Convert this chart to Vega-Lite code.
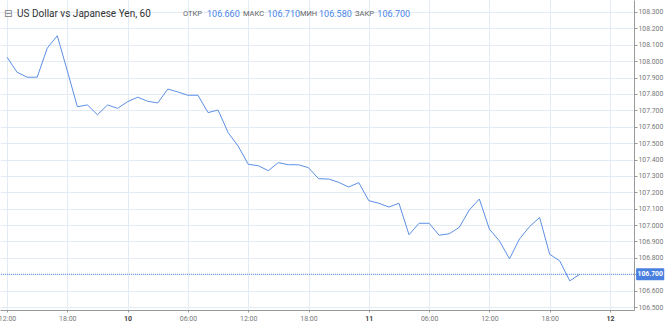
{
  "$schema": "https://vega.github.io/schema/vega-lite/v6.json",
  "width": 634,
  "height": 310,
  "autosize": {"type": "none"},
  "padding": {"left": 0, "top": 0, "right": 31, "bottom": 13},
  "background": "white",
  "config": {"view": {"stroke": null}, "font": "Roboto"},
  "resolve": {"axis": {"x": "independent", "y": "independent"}},
  "datasets": {
    "prices": [
      {"hour": 0, "price": 108.024}, {"hour": 1, "price": 107.932}, {"hour": 2, "price": 107.902},
      {"hour": 3, "price": 107.902}, {"hour": 4, "price": 108.079}, {"hour": 5, "price": 108.155},
      {"hour": 6, "price": 107.94}, {"hour": 7, "price": 107.722}, {"hour": 8, "price": 107.733},
      {"hour": 9, "price": 107.673}, {"hour": 10, "price": 107.733}, {"hour": 11, "price": 107.712},
      {"hour": 12, "price": 107.753}, {"hour": 13, "price": 107.78}, {"hour": 14, "price": 107.755},
      {"hour": 15, "price": 107.745}, {"hour": 16, "price": 107.83}, {"hour": 17, "price": 107.812},
      {"hour": 18, "price": 107.792}, {"hour": 19, "price": 107.792}, {"hour": 20, "price": 107.686},
      {"hour": 21, "price": 107.702}, {"hour": 22, "price": 107.564}, {"hour": 23, "price": 107.482},
      {"hour": 24, "price": 107.371}, {"hour": 25, "price": 107.362}, {"hour": 26, "price": 107.332},
      {"hour": 27, "price": 107.381}, {"hour": 28, "price": 107.368}, {"hour": 29, "price": 107.368},
      {"hour": 30, "price": 107.35}, {"hour": 31, "price": 107.283}, {"hour": 32, "price": 107.281},
      {"hour": 33, "price": 107.261}, {"hour": 34, "price": 107.232}, {"hour": 35, "price": 107.259},
      {"hour": 36, "price": 107.149}, {"hour": 37, "price": 107.133}, {"hour": 38, "price": 107.11},
      {"hour": 39, "price": 107.133}, {"hour": 40, "price": 106.941}, {"hour": 41, "price": 107.011},
      {"hour": 42, "price": 107.011}, {"hour": 43, "price": 106.938}, {"hour": 44, "price": 106.947},
      {"hour": 45, "price": 106.986}, {"hour": 46, "price": 107.092}, {"hour": 47, "price": 107.159},
      {"hour": 48, "price": 106.975}, {"hour": 49, "price": 106.903}, {"hour": 50, "price": 106.794},
      {"hour": 51, "price": 106.916}, {"hour": 52, "price": 106.991}, {"hour": 53, "price": 107.046},
      {"hour": 54, "price": 106.822}, {"hour": 55, "price": 106.781}, {"hour": 56, "price": 106.66},
      {"hour": 57, "price": 106.7}
    ],
    "one": [{}]
  },
  "layer": [
    {
      "data": {"name": "prices"},
      "mark": {"type": "line", "color": "#5d8fe6", "strokeWidth": 1, "clip": true},
      "encoding": {
        "x": {
          "field": "hour", "type": "quantitative",
          "scale": {"domain": [-0.7, 62.39], "nice": false, "zero": false},
          "axis": {
            "title": null,
            "values": [0, 6, 12, 18, 24, 30, 36, 42, 48, 54, 60],
            "labelExpr": "(12 + datum.value) % 24 == 0 ? toString(9 + floor((12 + datum.value) / 24)) : ((12 + datum.value) % 24 < 10 ? '0' : '') + toString((12 + datum.value) % 24) + ':00'",
            "grid": true, "gridColor": "#e3ecf5", "gridWidth": 1,
            "domainColor": "#999", "tickColor": "#999", "tickSize": 2,
            "labelFontSize": 7, "labelColor": {"condition": {"test": "(12 + datum.value) % 24 == 0", "value": "#444"}, "value": "#777"},
            "labelFontWeight": {"condition": {"test": "(12 + datum.value) % 24 == 0", "value": "bold"}, "value": "normal"},
            "labelPadding": 2, "labelFlush": false, "labelOverlap": false, "labelBound": false
          }
        },
        "y": {
          "field": "price", "type": "quantitative",
          "scale": {"domain": [106.482, 108.373], "nice": false, "zero": false},
          "axis": {
            "title": null, "orient": "right",
            "values": [106.5, 106.6, 106.7, 106.8, 106.9, 107.0, 107.1, 107.2, 107.3, 107.4, 107.5, 107.6, 107.7, 107.8, 107.9, 108.0, 108.1, 108.2, 108.3],
            "labelExpr": "abs(datum.value - 106.7) < 0.001 ? '' : format(datum.value, '.3f')",
            "grid": true, "gridColor": "#e3ecf5", "gridWidth": 1,
            "domainColor": "#999", "tickColor": "#999", "tickSize": 3,
            "labelFontSize": 6.8, "labelColor": "#777", "labelPadding": 1, "labelOverlap": false
          }
        }
      }
    },
    {
      "data": {"name": "one"},
      "mark": {"type": "rule", "color": "#5d8fe6", "strokeWidth": 1, "strokeDash": [1, 1]},
      "encoding": {"y": {"datum": 106.7, "axis": null}}
    },
    {
      "data": {"name": "one"},
      "mark": {"type": "rect", "color": "#4a80e0", "cornerRadius": 1},
      "encoding": {"x": {"datum": 62.6, "axis": null}, "x2": {"datum": 65.4}, "y": {"datum": 106.737, "axis": null}, "y2": {"datum": 106.663}}
    },
    {
      "data": {"name": "one"},
      "mark": {"type": "text", "text": "106.700", "color": "white", "fontSize": 6.8, "fontWeight": "bold", "align": "center", "baseline": "middle"},
      "encoding": {"x": {"datum": 64.0, "axis": null}, "y": {"datum": 106.7, "axis": null}}
    },
    {
      "data": {"name": "one"},
      "mark": {"type": "text", "text": "⊟", "color": "#777", "fontSize": 10, "align": "left", "baseline": "middle", "font": "DejaVu Sans"},
      "encoding": {"x": {"datum": -0.3, "axis": null}, "y": {"datum": 108.288, "axis": null}}
    },
    {
      "data": {"name": "one"},
      "mark": {"type": "text", "text": "US Dollar vs Japanese Yen, 60", "color": "#333", "fontSize": 10, "align": "left", "baseline": "middle"},
      "encoding": {"x": {"datum": 0.995, "axis": null}, "y": {"datum": 108.288, "axis": null}}
    },
    {
      "data": {"name": "one"},
      "mark": {"type": "text", "text": "ОТКР", "color": "#666", "fontSize": 7.5, "align": "left", "baseline": "middle"},
      "encoding": {"x": {"datum": 17.51, "axis": null}, "y": {"datum": 108.288, "axis": null}}
    },
    {
      "data": {"name": "one"},
      "mark": {"type": "text", "text": "106.660", "color": "#4a86e8", "fontSize": 9, "align": "left", "baseline": "middle"},
      "encoding": {"x": {"datum": 19.9, "axis": null}, "y": {"datum": 108.288, "axis": null}}
    },
    {
      "data": {"name": "one"},
      "mark": {"type": "text", "text": "МАКС", "color": "#666", "fontSize": 7.5, "align": "left", "baseline": "middle"},
      "encoding": {"x": {"datum": 23.48, "axis": null}, "y": {"datum": 108.288, "axis": null}}
    },
    {
      "data": {"name": "one"},
      "mark": {"type": "text", "text": "106.710", "color": "#4a86e8", "fontSize": 9, "align": "left", "baseline": "middle"},
      "encoding": {"x": {"datum": 25.9, "axis": null}, "y": {"datum": 108.288, "axis": null}}
    },
    {
      "data": {"name": "one"},
      "mark": {"type": "text", "text": "МИН", "color": "#666", "fontSize": 7.5, "align": "left", "baseline": "middle"},
      "encoding": {"x": {"datum": 29.15, "axis": null}, "y": {"datum": 108.288, "axis": null}}
    },
    {
      "data": {"name": "one"},
      "mark": {"type": "text", "text": "106.580", "color": "#4a86e8", "fontSize": 9, "align": "left", "baseline": "middle"},
      "encoding": {"x": {"datum": 31.05, "axis": null}, "y": {"datum": 108.288, "axis": null}}
    },
    {
      "data": {"name": "one"},
      "mark": {"type": "text", "text": "ЗАКР", "color": "#666", "fontSize": 7.5, "align": "left", "baseline": "middle"},
      "encoding": {"x": {"datum": 34.63, "axis": null}, "y": {"datum": 108.288, "axis": null}}
    },
    {
      "data": {"name": "one"},
      "mark": {"type": "text", "text": "106.700", "color": "#4a86e8", "fontSize": 9, "align": "left", "baseline": "middle"},
      "encoding": {"x": {"datum": 36.85, "axis": null}, "y": {"datum": 108.288, "axis": null}}
    }
  ]
}
